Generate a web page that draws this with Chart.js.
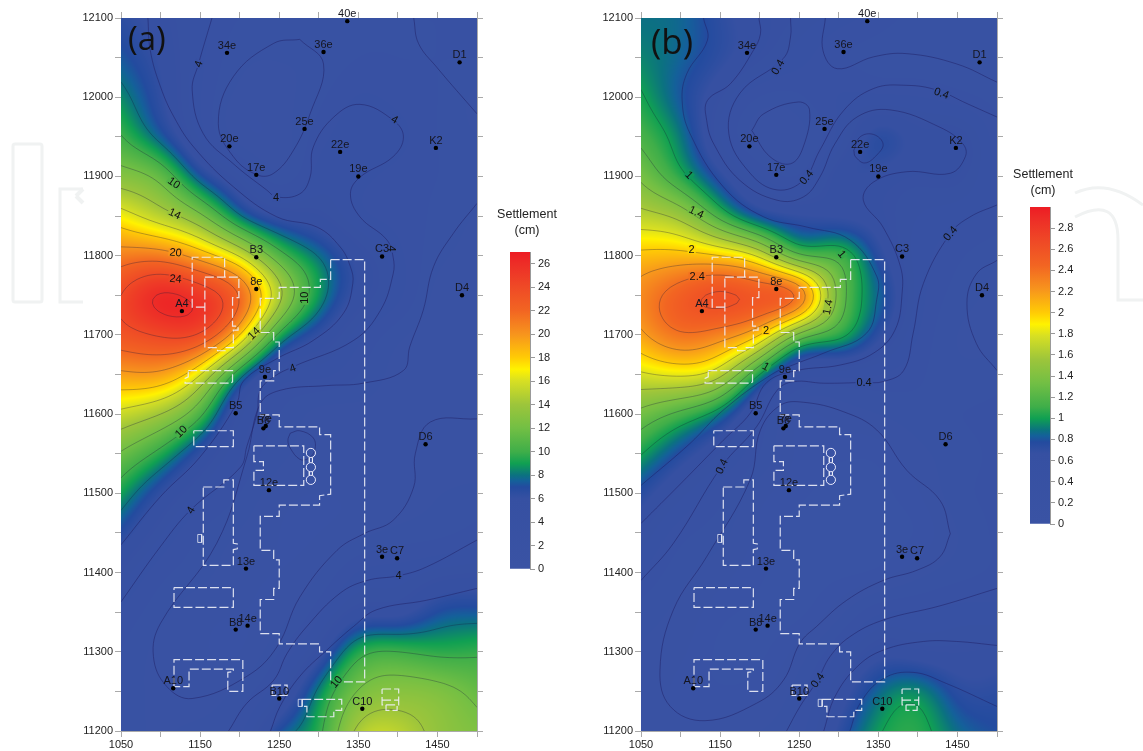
<!DOCTYPE html>
<html>
<head>
<meta charset="utf-8">
<title>Settlement</title>
<script src="https://cdn.jsdelivr.net/npm/chart.js@4"></script>
<style>
html,body{margin:0;padding:0;background:#fff;overflow:hidden}
#page{position:relative;width:1143px;height:751px;overflow:hidden}
canvas{position:absolute}
svg{position:absolute;left:0;top:0}
.cbt{position:absolute;width:90px;text-align:center;font:12.5px/16px "Liberation Sans",Arial,sans-serif;color:#222}
</style>
</head>
<body>
<div id="page">
<svg width="1143" height="751" fill="none" stroke="#f0f2f2" stroke-width="3">
<rect x="13" y="144" width="29" height="158" rx="2"/>
<path d="M83 189H60V302H83"/>
<path d="M76 196L83 189M76 196L83 203" stroke-width="4"/>
<path d="M1075 193Q1107 178 1143 205M1075 217Q1118 195 1118 240V300H1143"/>
</svg>
<canvas id="panelA" width="490" height="751" style="left:0;top:0"></canvas>
<canvas id="panelB" width="490" height="751" style="left:520px;top:0"></canvas>
<canvas id="barA" width="60" height="345" style="left:505px;top:240px"></canvas>
<canvas id="barB" width="60" height="345" style="left:1025px;top:195px"></canvas>
<div class="cbt" style="left:482px;top:206px">Settlement<br>(cm)</div>
<div class="cbt" style="left:998px;top:166px">Settlement<br>(cm)</div>
</div>
<script>
// grid the maps were read on
const xGrid = [1050,1100,1150,1200,1250,1300,1350,1400,1450,1500];
const yGrid = [12100,12050,12000,11950,11900,11850,11800,11750,11700,11650,11600,11550,11500,11450,11400,11350,11300,11250,11200];
const xTicks = [1050,1100,1150,1200,1250,1300,1350,1400,1450,1500];
const xTickLabels = [1050,1150,1250,1350,1450];
const yTicks = [11200,11250,11300,11350,11400,11450,11500,11550,11600,11650,11700,11750,11800,11850,11900,11950,12000,12050,12100];
const yTickLabels = [11200,11300,11400,11500,11600,11700,11800,11900,12000,12100];
const barTicksA = [0,2,4,6,8,10,12,14,16,18,20,22,24,26];
const barTicksB = [0,0.2,0.4,0.6,0.8,1,1.2,1.4,1.6,1.8,2,2.2,2.4,2.6,2.8];

const settlementA = [
[6.5,5.5,4.1,3,3,3,3,3,3,3],
[7.3,5.9,4,2.5,2.3,2.5,3,3,3,3],
[8.5,6.3,3.8,2,2,2.8,3.8,3.5,3,2],
[10.1,7.5,4.3,1.9,1.8,3.4,4.2,4,3,2.3],
[12.9,11.3,7.3,4.6,2.5,4.1,4,3.5,3,2.8],
[16.8,15,12.4,8.2,5.9,5.3,4,3.5,2.8,2.2],
[20.9,21,19.1,15.8,10.8,7.9,5.6,4,2.5,2],
[24,26.1,25.2,21.8,14.5,8.8,5.7,4,2,1.8],
[23.2,24.2,23.7,18,9.6,6.2,4.1,2.5,1.8,1.8],
[19.6,19.5,16.1,8.8,4.5,4,3,2,1.8,1.8],
[15.5,14,10.4,4.8,3,2,2,2,2,2],
[11.8,9.4,6.3,3.8,2.5,1.8,1.8,1.9,1.8,1.8],
[9,6.3,4.3,3,1.8,1.5,1.6,1.8,2.2,2.5],
[6.8,4.6,3,2.2,1.5,1.5,2,2.5,2.8,3.3],
[5,3.3,2.5,1.8,1.5,2.2,3.8,4.1,4.7,5],
[3.7,2.5,1.8,1.5,1.8,3.5,5.5,5.7,7,7.3],
[3,2,1.6,1.5,3,5.5,9.3,10,9.6,9.7],
[2.7,2,1.8,2.5,4.5,8.3,12.1,13,12.6,11.5],
[2.5,2.2,2.5,3.5,7,9.6,14.4,15,13.5,12.6]
];
const settlementB = [
[.88,.85,.72,.6,.55,.46,.38,.3,.28,.25],
[.93,.84,.71,.57,.45,.35,.3,.28,.27,.25],
[1.02,.81,.57,.33,.32,.42,.44,.42,.37,.3],
[1.15,.9,.5,.2,.22,.45,.72,.62,.6,.36],
[1.36,1.06,.72,.43,.35,.62,.64,.58,.58,.38],
[1.67,1.53,1.14,.8,.68,.66,.6,.5,.45,.38],
[2.05,2.07,2,1.75,1.25,1.12,.74,.47,.35,.27],
[2.27,2.5,2.62,2.55,2.32,1.34,.85,.47,.3,.22],
[2.16,2.37,2.3,2,1.35,1.06,.72,.42,.25,.22],
[1.77,1.83,1.65,1,.5,.45,.42,.35,.28,.3],
[1.34,1.15,.9,.45,.18,.2,.25,.3,.33,.35],
[1.01,.76,.55,.33,.15,.12,.13,.22,.3,.35],
[.75,.53,.37,.2,.12,.1,.1,.16,.3,.35],
[.57,.37,.28,.15,.1,.1,.1,.12,.25,.35],
[.42,.28,.2,.12,.1,.1,.13,.22,.3,.35],
[.3,.22,.13,.1,.1,.22,.4,.42,.45,.45],
[.24,.18,.1,.1,.2,.42,.62,.6,.58,.6],
[.22,.15,.12,.15,.3,.58,.85,.93,.74,.72],
[.2,.18,.2,.25,.38,.7,.98,1.05,.87,.78]
];

// low contours (the hot lobes come from the grids)
const linesA = [
[[1084,12100],[1087,12059],[1100,12013],[1117,11975],[1142,11937],[1192,11887],[1247,11849],[1298,11836],[1327,11811],[1340,11786],[1343,11765],[1331,11727],[1293,11693],[1247,11670],[1205,11642],[1196,11613],[1150,11546],[1100,11496],[1050,11435]],
[[1165,12100],[1148,12042],[1140,12009],[1154,11954],[1192,11916],[1234,11883],[1247,11874],[1276,11878],[1289,11899],[1293,11937],[1319,11975],[1352,11991],[1394,11971],[1407,11950],[1394,11925],[1352,11899],[1340,11878],[1352,11849],[1386,11820],[1394,11798],[1394,11777],[1378,11731],[1344,11693],[1268,11660],[1243,11647],[1226,11630],[1222,11601],[1209,11559],[1201,11533],[1138,11479],[1100,11433],[1050,11363]],
[[1276,12073],[1306,12042],[1289,11979],[1268,11933],[1243,11904],[1222,11902],[1192,11925],[1173,11967],[1192,12026],[1243,12068],[1276,12073]],
[[1420,12100],[1426,12068],[1449,12038],[1500,11979]],
[[1500,11594],[1441,11590],[1422,11550],[1420,11508],[1394,11466],[1357,11449],[1323,11428],[1276,11369],[1247,11306],[1209,11269],[1140,11241],[1108,11256],[1091,11294],[1100,11336],[1171,11437],[1209,11546],[1226,11613],[1251,11630],[1310,11636],[1356,11639],[1407,11655],[1415,11685],[1432,11731],[1445,11786],[1470,11828],[1500,11866]],
[[1500,11441],[1436,11407],[1401,11396],[1361,11390],[1327,11374],[1285,11332],[1260,11298],[1243,11264],[1209,11235],[1186,11200]],
[[1500,11380],[1436,11365],[1373,11353],[1344,11332],[1310,11302],[1276,11269],[1251,11231],[1239,11200]],
[[1264,11576],[1276,11579],[1293,11570],[1295,11555],[1287,11544],[1276,11543],[1264,11557],[1261,11567],[1264,11576]]
];
const linesB = [
[[1129,12100],[1134,12072],[1108,12030],[1102,11996],[1112,11954],[1154,11887],[1205,11849],[1260,11836],[1314,11820],[1348,11774],[1348,11745],[1335,11702],[1281,11677],[1247,11664],[1215,11650],[1154,11605],[1112,11563],[1050,11510]],
[[1199,12100],[1201,12080],[1192,12059],[1163,12017],[1134,11996],[1133,11971],[1142,11941],[1175,11895],[1222,11870],[1255,11874],[1276,11899],[1295,11941],[1323,11975],[1365,11984],[1428,11962],[1457,11941],[1460,11925],[1441,11904],[1386,11906],[1344,11893],[1331,11870],[1356,11836],[1378,11786],[1380,11752],[1371,11706],[1344,11677],[1302,11662],[1247,11655],[1209,11640],[1188,11601],[1154,11567],[1100,11512],[1050,11462]],
[[1239,12100],[1239,12076],[1230,12049],[1175,12005],[1161,11954],[1188,11904],[1222,11883],[1255,11895],[1276,11933],[1306,11983],[1344,12011],[1386,12015],[1424,12009],[1462,11992],[1500,11975]],
[[1500,11864],[1466,11849],[1441,11828],[1407,11765],[1394,11702],[1382,11655],[1356,11641],[1332,11640],[1281,11639],[1243,11641],[1222,11630],[1196,11584],[1152,11534],[1091,11437],[1050,11390]],
[[1441,11449],[1428,11420],[1399,11403],[1356,11390],[1310,11365],[1272,11332],[1251,11311],[1230,11264],[1196,11235],[1131,11213],[1087,11231],[1074,11277],[1091,11353],[1133,11420],[1188,11517],[1201,11580],[1226,11611],[1255,11615],[1306,11603],[1348,11580],[1386,11529],[1428,11491],[1441,11449]],
[[1190,11958],[1205,11979],[1249,11994],[1263,11984],[1255,11937],[1239,11916],[1213,11925],[1190,11958]],
[[1283,12100],[1280,12059],[1298,12036],[1344,12051],[1386,12055],[1449,12042],[1500,12019]],
[[1500,11794],[1474,11777],[1462,11740],[1474,11689],[1500,11655]],
[[1319,11933],[1327,11950],[1344,11953],[1356,11941],[1348,11927],[1333,11917],[1321,11925],[1319,11933]],
[[1500,11380],[1428,11358],[1356,11340],[1314,11319],[1289,11294],[1273,11264],[1251,11231],[1234,11200]],
[[1500,11308],[1449,11313],[1407,11313],[1356,11302],[1323,11281],[1295,11243],[1281,11200]],
[[1314,11200],[1327,11235],[1356,11266],[1394,11274],[1436,11260],[1500,11231]]
];

const labelsA = ["10","14","20","24","10","14","4","4","4","4","4","10","4","4","10"];
const labelXA = [1117,1118,1119,1119,1282,1218,1148,1396,1246,1392,1267,1126,1138,1401,1322];
const labelYA = [11892,11853,11804,11771,11747,11702,12042,11972,11874,11809,11658,11578,11479,11396,11262];
const labelRotA = [35,25,5,5,-90,-45,-70,30,0,90,-20,-45,-60,0,-50];
const labelsB = ["0.4","0.4","1","1.4","2","2.4","2","1.4","1","0.4","0.4","1","0.4","0.4","0.4"];
const labelXB = [1223,1430,1111,1120,1114,1121,1208,1286,1304,1259,1441,1208,1332,1152,1273];
const labelYB = [12038,12005,11902,11855,11808,11774,11705,11735,11802,11899,11828,11660,11640,11534,11264];
const labelRotB = [-60,20,45,25,0,0,0,-80,50,-50,-50,30,0,-65,-55];

const stationNames = ["34e","36e","40e","D1","25e","20e","22e","K2","17e","19e","B3","C3","8e","D4","A4","9e","B5","B6","7e","D6","12e","13e","3e","C7","14e","B8","A10","B10","C10"];
const stationX = [1184,1306,1336,1478,1282,1187,1327,1448,1221,1350,1221,1380,1221,1481,1127,1232,1195,1230,1233,1435,1237,1208,1380,1399,1210,1195,1116,1250,1355];
const stationY = [12056,12057,12096,12044,11960,11938,11931,11936,11902,11900,11798,11799,11758,11750,11730,11647,11601,11582,11585,11562,11504,11405,11420,11418,11333,11328,11254,11241,11228];

const outlines = [
[[1156,11735],[1140,11735],[1140,11798],[1181,11798],[1181,11773]],
[[1156,11773],[1199,11773],[1199,11747],[1191,11747],[1191,11711],[1198,11711],[1198,11706],[1192,11706],[1192,11684],[1183,11684],[1183,11680],[1172,11680],[1172,11684],[1156,11684],[1156,11773]],
[[1315,11795],[1358,11795],[1358,11262],[1315,11262],[1315,11300],[1301,11300],[1301,11310],[1250,11310],[1250,11323],[1226,11323],[1226,11366],[1243,11366],[1243,11380],[1250,11380],[1250,11416],[1243,11416],[1243,11428],[1226,11428],[1226,11471],[1250,11471],[1250,11485],[1301,11485],[1301,11497],[1315,11499],[1315,11574],[1301,11574],[1301,11584],[1250,11584],[1250,11599],[1226,11599],[1226,11642],[1243,11642],[1243,11655],[1250,11655],[1250,11691],[1243,11691],[1243,11703],[1226,11703],[1226,11746],[1250,11746],[1250,11760],[1302,11760],[1302,11770],[1315,11770],[1315,11795]],
[[1135,11655],[1191,11655],[1191,11641],[1189,11639],[1131,11639],[1131,11645],[1135,11647],[1135,11655]],
[[1142,11579],[1192,11579],[1192,11559],[1142,11559],[1142,11579]],
[[1154,11508],[1180,11508],[1180,11517],[1192,11517],[1192,11437],[1197,11436],[1197,11430],[1192,11429],[1192,11409],[1154,11409],[1154,11508]],
[[1117,11381],[1192,11381],[1192,11356],[1117,11356],[1117,11381]],
[[1117,11256],[1117,11290],[1204,11290],[1204,11250],[1185,11250],[1185,11274],[1192,11275],[1192,11278],[1136,11278],[1136,11256],[1117,11256]],
[[1218,11560],[1281,11560],[1281,11510],[1218,11510],[1218,11529],[1230,11529],[1230,11540],[1218,11540],[1218,11560]],
[[1241,11258],[1260,11258],[1260,11245],[1241,11245],[1241,11258]],
[[1279,11240],[1329,11240],[1329,11226],[1319,11226],[1319,11218],[1285,11218],[1285,11231],[1279,11231]],
[[1380,11253],[1401,11253],[1401,11233],[1380,11233],[1380,11253]],
[[1380,11239],[1401,11239]],
[[1385,11233],[1385,11226],[1399,11226],[1399,11233]]
];
const solidOutlines = [
[[1147,11448],[1152,11448],[1152,11438],[1147,11438],[1147,11448]],
[[1274,11240],[1279,11240],[1279,11231],[1274,11231],[1274,11240]],
[[1288,11545],[1288,11539]],[[1292,11545],[1292,11539]],
[[1288,11527],[1288,11523]],[[1292,11527],[1292,11523]]
];
const tankX = [1290,1290,1290];
const tankY = [11551,11533,11517];

const contourLevelsA = [8,10,12,14,16,18,20,22,24,26];
const contourLevelsB = [1,1.2,1.4,1.6,1.8,2,2.2,2.4,2.6];

// colour ramp, position on the bar 0..1
const rampPos = [0,.222,.259,.278,.296,.333,.37,.444,.519,.593,.63,.667,.741,.815,.889,.963,1];
const rampCol = ["#3a53a4","#3650a2","#234b9f","#14609a","#0b7280","#10a052","#3fae49","#72bf44","#9dc53b","#d7df23","#fff200","#ffcb05","#f7941d","#f26522","#ef4a26","#ed2d27","#ed1c24"];

const FONT = '"Liberation Sans", Arial, sans-serif';
const rgb = rampCol.map(c => [1,3,5].map(i => parseInt(c.substr(i,2),16)));

function colorAt(t){
    t = Math.max(0, Math.min(1, t));
    let i = 0;
    while(i < rampPos.length-2 && t > rampPos[i+1]) i++;
    const f = (t-rampPos[i])/(rampPos[i+1]-rampPos[i]);
    return [0,1,2].map(k => rgb[i][k]+(rgb[i+1][k]-rgb[i][k])*f);
}

// natural cubic spline through evenly spaced values, for painting only
function spline(ys){
    const n = ys.length, m = new Array(n).fill(0), c = new Array(n).fill(0), d = new Array(n).fill(0);
    for(let i=1;i<n-1;i++){
        const w = 4-(i>1?c[i-1]:0);
        c[i] = 1/w;
        d[i] = (6*(ys[i-1]-2*ys[i]+ys[i+1])-(i>1?d[i-1]:0))/w;
    }
    for(let i=n-2;i>0;i--) m[i] = d[i]-c[i]*m[i+1];
    return t => {
        const i = Math.max(0,Math.min(n-2,Math.floor(t))), u = t-i, v = 1-u;
        return v*ys[i]+u*ys[i+1]+((v*v*v-v)*m[i]+(u*u*u-u)*m[i+1])/6;
    };
}

const FINE = 5, fineCache = new Map();
function fineGrid(grid){
    if(fineCache.has(grid)) return fineCache.get(grid);
    const sub = 50/FINE, nx = (xGrid.length-1)*sub+1, ny = (yGrid.length-1)*sub+1;
    const rows = grid.map(r => { const s = spline(r), o = []; for(let i=0;i<nx;i++) o.push(s(i/sub)); return o; });
    const out = [];
    for(let i=0;i<nx;i++){
        const s = spline(rows.map(r => r[i])), col = [];
        for(let j=0;j<ny;j++) col.push(s(j/sub));
        out.push(col);
    }
    fineCache.set(grid,out);
    return out;
}

function fieldAt(grid,x,y){
    const f = fineGrid(grid);
    const fx = (x-xGrid[0])/FINE, fy = (yGrid[0]-y)/FINE;
    const i = Math.max(0,Math.min(f.length-2,Math.floor(fx)));
    const j = Math.max(0,Math.min(f[0].length-2,Math.floor(fy)));
    const tx = fx-i, ty = fy-j;
    return (f[i][j]*(1-tx)+f[i+1][j]*tx)*(1-ty)+(f[i][j+1]*(1-tx)+f[i+1][j+1]*tx)*ty;
}

function contourSegments(grid,level){
    const segs = [], step = FINE;
    const edge = (x1,y1,v1,x2,y2,v2) => {
        const f = (level-v1)/(v2-v1);
        return [x1+(x2-x1)*f, y1+(y2-y1)*f];
    };
    for(let x=1050; x<1500; x+=step){
        for(let y=11200; y<12100; y+=step){
            const a = fieldAt(grid,x,y+step), b = fieldAt(grid,x+step,y+step);
            const c = fieldAt(grid,x+step,y), d = fieldAt(grid,x,y);
            const pts = [];
            if((a>=level)!==(b>=level)) pts.push(edge(x,y+step,a,x+step,y+step,b));
            if((b>=level)!==(c>=level)) pts.push(edge(x+step,y+step,b,x+step,y,c));
            if((c>=level)!==(d>=level)) pts.push(edge(x+step,y,c,x,y,d));
            if((d>=level)!==(a>=level)) pts.push(edge(x,y,d,x,y+step,a));
            if(pts.length===2) segs.push(pts);
            if(pts.length===4){ segs.push([pts[0],pts[1]]); segs.push([pts[2],pts[3]]); }
        }
    }
    return segs;
}

const toXY = line => line.map(p => ({x:p[0],y:p[1]}));

function makePanel(id,cfg){
    const fieldPlugin = {
        id:'field',
        beforeDatasetsDraw(chart){
            const {ctx,chartArea:a,scales:{x,y}} = chart;
            const w = Math.round(a.right-a.left), h = Math.round(a.bottom-a.top);
            const off = document.createElement('canvas');
            off.width = w; off.height = h;
            const octx = off.getContext('2d');
            const img = octx.createImageData(w,h);
            for(let j=0;j<h;j++){
                const vy = y.getValueForPixel(a.top+j+.5);
                for(let i=0;i<w;i++){
                    const vx = x.getValueForPixel(a.left+i+.5);
                    const col = colorAt(fieldAt(cfg.grid,vx,vy)/cfg.max);
                    const k = (j*w+i)*4;
                    img.data[k]=col[0]; img.data[k+1]=col[1]; img.data[k+2]=col[2]; img.data[k+3]=255;
                }
            }
            octx.putImageData(img,0,0);
            ctx.drawImage(off,a.left,a.top);
            ctx.save();
            ctx.beginPath(); ctx.rect(a.left,a.top,w,h); ctx.clip();
            ctx.strokeStyle = 'rgba(25,25,60,0.45)';
            ctx.lineWidth = 0.7;
            cfg.levels.forEach(level => {
                ctx.beginPath();
                contourSegments(cfg.grid,level).forEach(s => {
                    ctx.moveTo(x.getPixelForValue(s[0][0]),y.getPixelForValue(s[0][1]));
                    ctx.lineTo(x.getPixelForValue(s[1][0]),y.getPixelForValue(s[1][1]));
                });
                ctx.stroke();
            });
            ctx.restore();
        },
        afterDatasetsDraw(chart){
            const {ctx,scales:{x,y}} = chart;
            ctx.save();
            ctx.font = '11px '+FONT;
            ctx.textAlign = 'center';
            ctx.textBaseline = 'middle';
            cfg.labels.forEach((t,i) => {
                const col = colorAt(fieldAt(cfg.grid,cfg.labelX[i],cfg.labelY[i])/cfg.max);
                ctx.save();
                ctx.translate(x.getPixelForValue(cfg.labelX[i]),y.getPixelForValue(cfg.labelY[i]));
                ctx.rotate(cfg.labelRot[i]*Math.PI/180);
                ctx.fillStyle = `rgb(${col[0]|0},${col[1]|0},${col[2]|0})`;
                ctx.fillRect(-ctx.measureText(t).width/2-1,-4,ctx.measureText(t).width+2,8);
                ctx.fillStyle = '#111';
                ctx.fillText(t,0,0.5);
                ctx.restore();
            });
            ctx.fillStyle = '#15151f';
            stationNames.forEach((t,i) => {
                ctx.fillText(t,x.getPixelForValue(stationX[i]),y.getPixelForValue(stationY[i])-7);
            });
            ctx.font = cfg.tagSize+'px "Open Sans", '+FONT;
            ctx.textAlign = 'left';
            ctx.textBaseline = 'alphabetic';
            ctx.fillStyle = '#111';
            ctx.fillText(cfg.tag,cfg.tagX,cfg.tagY);
            ctx.restore();
        }
    };
    const datasets = [];
    datasets.push({data:stationX.map((v,i)=>({x:v,y:stationY[i]})),pointRadius:2.2,pointBackgroundColor:'#000',pointBorderWidth:0,showLine:false});
    datasets.push({data:tankX.map((v,i)=>({x:v,y:tankY[i]})),pointRadius:4.6,pointBackgroundColor:'rgba(0,0,0,0)',pointBorderColor:'#eef',pointBorderWidth:1,showLine:false});
    outlines.forEach(l => datasets.push({data:toXY(l),showLine:true,pointRadius:0,borderColor:'rgba(238,240,248,0.9)',borderWidth:1.2,borderDash:[9,3],tension:0}));
    solidOutlines.forEach(l => datasets.push({data:toXY(l),showLine:true,pointRadius:0,borderColor:'rgba(238,240,248,0.85)',borderWidth:0.9,tension:0}));
    cfg.lines.forEach(l => datasets.push({data:toXY(l),showLine:true,pointRadius:0,borderColor:'rgba(30,30,100,0.7)',borderWidth:0.7,tension:0.4}));

    const axisGrid = {drawOnChartArea:false,drawTicks:true,tickLength:6,color:'#aaa'};
    const border = {color:'#aaa',width:1};
    return new Chart(document.getElementById(id),{
        type:'scatter',
        data:{datasets},
        plugins:[fieldPlugin],
        options:{
            responsive:false,
            animation:false,
            events:[],
            layout:{padding:0},
            plugins:{legend:{display:false},tooltip:{enabled:false}},
            scales:{
                x:{type:'linear',position:'bottom',min:1050,max:1500,grid:axisGrid,border,
                    afterBuildTicks:s=>{s.ticks=xTicks.map(value=>({value}))},
                    afterFit:s=>{s.height=20},
                    ticks:{autoSkip:false,maxRotation:0,padding:1,color:'#222',font:{size:11,family:FONT},
                        callback:v=>xTickLabels.includes(v)?String(v):''}},
                y:{type:'linear',position:'left',min:11200,max:12100,grid:axisGrid,border,
                    afterBuildTicks:s=>{s.ticks=yTicks.map(value=>({value}))},
                    afterFit:s=>{s.width=121},
                    ticks:{autoSkip:false,padding:2,color:'#222',font:{size:11,family:FONT},
                        callback:v=>yTickLabels.includes(v)?String(v):''}},
                x2:{type:'linear',position:'top',min:1050,max:1500,grid:axisGrid,border,
                    afterBuildTicks:s=>{s.ticks=xTicks.map(value=>({value}))},
                    afterFit:s=>{s.height=18},
                    ticks:{autoSkip:false,callback:()=>''}},
                y2:{type:'linear',position:'right',min:11200,max:12100,grid:axisGrid,border,
                    afterBuildTicks:s=>{s.ticks=yTicks.map(value=>({value}))},
                    afterFit:s=>{s.width=13},
                    ticks:{autoSkip:false,callback:()=>''}}
            }
        }
    });
}

function makeBar(id,max,ticks){
    return new Chart(document.getElementById(id),{
        type:'bar',
        data:{labels:[''],datasets:[{
            data:[[0,max]],
            barPercentage:1,
            categoryPercentage:1,
            backgroundColor(ctx){
                const a = ctx.chart.chartArea;
                if(!a) return '#3a53a4';
                const g = ctx.chart.ctx.createLinearGradient(0,a.bottom,0,a.top);
                rampPos.forEach((p,i)=>g.addColorStop(p,rampCol[i]));
                return g;
            }
        }]},
        options:{
            responsive:false,
            animation:false,
            events:[],
            layout:{padding:{left:5,top:12,bottom:16}},
            plugins:{legend:{display:false},tooltip:{enabled:false}},
            scales:{
                x:{display:false},
                y:{position:'right',min:0,max,
                    grid:{drawOnChartArea:false,tickLength:5,color:'#999'},
                    border:{color:'#999'},
                    afterBuildTicks:s=>{s.ticks=ticks.map(value=>({value}))},
                    afterFit:s=>{s.width=35},
                    ticks:{autoSkip:false,padding:3,color:'#222',font:{size:11,family:FONT},
                        callback:v=>String(+v.toFixed(1))}}
            }
        }
    });
}

makePanel('panelA',{tag:'(a)',tagSize:33,tagX:128,tagY:50,grid:settlementA,max:27,levels:contourLevelsA,lines:linesA,labels:labelsA,labelX:labelXA,labelY:labelYA,labelRot:labelRotA});
makePanel('panelB',{tag:'(b)',tagSize:35,tagX:131,tagY:54,grid:settlementB,max:3,levels:contourLevelsB,lines:linesB,labels:labelsB,labelX:labelXB,labelY:labelYB,labelRot:labelRotB});
makeBar('barA',27,barTicksA);
makeBar('barB',3,barTicksB);
</script>
</body>
</html>
